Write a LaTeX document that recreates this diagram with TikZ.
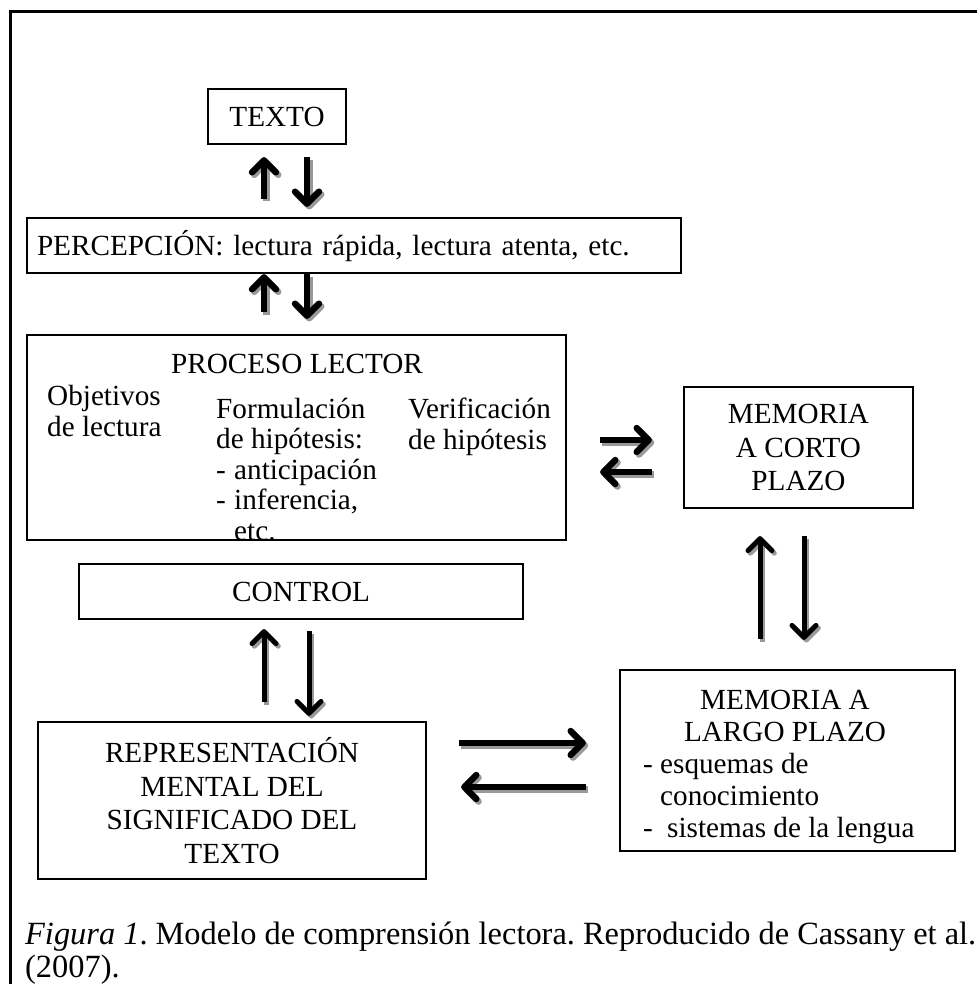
\documentclass[tikz,border=0pt]{standalone}
\usepackage{fontspec}
\setmainfont{Liberation Serif}
\usetikzlibrary{arrows.meta}
\newcommand{\fs}[1]{\fontsize{29.2}{#1}\selectfont\frenchspacing}
\begin{document}
\begin{tikzpicture}[x=1pt,y=-1pt,
  every node/.style={font=\fs{33}},
  box/.style={draw, line width=2.2, inner sep=0pt},
  oneline/.style={text height=20, text depth=0},
  txt/.style={inner sep=0pt, anchor=base west},
  tip/.style={-{Straight Barb[length=12pt,width=24pt,round]}},
  arr/.style={line width=#1, tip},
  arr/.default=6.4,
  shd/.style={line width=#1, tip, draw=black!40, transform canvas={shift={(2.3,2.6)}}},
  shd/.default=6.4]
\useasboundingbox (0,0) rectangle (977,984);
% frame
\draw[line width=3] (977,12) -- (10,12) -- (10,984);
% boxes
\node[box, oneline, minimum width=138, minimum height=55] (texto) at (277,116.5) {TEXTO};
\node[box, oneline, minimum width=654, minimum height=55, text width=634, align=left] (perc) at (354,245.5) {PERCEPCIÓN: lectura rápida, lectura atenta, etc.};
\node[box, minimum width=539, minimum height=205] (proc) at (296.5,437.5) {};
\node[box, oneline, minimum width=444, minimum height=55] (control) at (301,591.5) {CONTROL};
\node[box, minimum width=229, minimum height=121, align=center, font=\fs{33.3}] (corto) at (798.5,447.5) {MEMORIA\\A CORTO\\PLAZO};
\node[box, minimum width=388, minimum height=157, align=center, font=\fs{33.5}] (repr) at (232,800.5) {REPRESENTACIÓN\\MENTAL DEL\\SIGNIFICADO DEL\\TEXTO};
\node[box, minimum width=335, minimum height=181] (largo) at (787.5,760.5) {};
% texts inside PROCESO LECTOR
\node[inner sep=0pt, anchor=base] (proct) at (297,373) {PROCESO LECTOR};
\node[txt, font=\fs{31.7}] (obj) at (47,405) {\begin{tabular}[t]{@{}l@{}}Objetivos\\de lectura\end{tabular}};
\node[txt, font=\fs{30.5}] (form) at (216,418) {\begin{tabular}[t]{@{}l@{}}Formulación\\de hipótesis:\\\makebox[18pt][l]{-}anticipación\\\makebox[18pt][l]{-}inferencia,\\\hspace*{18pt}etc.\end{tabular}};
\node[txt, font=\fs{31.7}] (verif) at (408,418) {\begin{tabular}[t]{@{}l@{}}Verificación\\de hipótesis\end{tabular}};
% texts inside MEMORIA A LARGO PLAZO
\node[inner sep=0pt, anchor=base, font=\fs{32}] (largot) at (785,709) {\begin{tabular}[t]{@{}c@{}}MEMORIA A\\LARGO PLAZO\end{tabular}};
\node[txt, font=\fs{32}] (largol) at (643,773) {\begin{tabular}[t]{@{}l@{}}\makebox[17pt][l]{-}esquemas de\\\hspace*{17pt}conocimiento\\\makebox[24pt][l]{-}sistemas de la lengua\end{tabular}};
% caption
\node[txt, font={\fontsize{32.4}{33.5}\selectfont\frenchspacing}] (cap) at (25,944) {\begin{tabular}[t]{@{}l@{}}\textit{Figura 1}. Modelo de comprensión lectora. Reproducido de Cassany et al.\\(2007).\end{tabular}};
% arrow positions
\coordinate (xa) at (264,0); \coordinate (xb) at (307,0);
\coordinate (xc) at (264,0); \coordinate (xd) at (309,0);
\coordinate (xe) at (760,0); \coordinate (xf) at (804,0);
\coordinate (ya) at (0,440); \coordinate (yb) at (0,472);
\coordinate (yc) at (0,743); \coordinate (yd) at (0,787);
% arrows: shadows first, then arrows
\foreach \st/\w in {shd/6.4, arr/6.4}{
  \draw[\st=\w, shorten <=18, shorten >=12] (perc.north -| xa) -- (texto.south -| xa);
  \draw[\st=\w, shorten <=12, shorten >=10] (texto.south -| xb) -- (perc.north -| xb);
  \draw[\st=\w, shorten <=22, shorten >=0] (proc.north -| xa) -- (perc.south -| xa);
  \draw[\st=\w, shorten <=0, shorten >=15] (perc.south -| xb) -- (proc.north -| xb);
  \draw[\st=\w, shorten <=33, shorten >=31] (proc.east |- ya) -- (corto.west |- ya);
  \draw[\st=\w, shorten <=31, shorten >=33] (corto.west |- yb) -- (proc.east |- yb);
  \draw[\st=\w, shorten <=32, shorten >=33] (repr.east |- yc) -- (largo.west |- yc);
  \draw[\st=\w, shorten <=33, shorten >=34] (largo.west |- yd) -- (repr.east |- yd);
}
\foreach \st/\w in {shd/5, arr/5}{
  \draw[\st=\w, shorten <=19, shorten >=9] (repr.north -| xc) -- (control.south -| xc);
  \draw[\st=\w, shorten <=11, shorten >=5] (control.south -| xd) -- (repr.north -| xd);
  \draw[\st=\w, shorten <=30, shorten >=27] (largo.north -| xe) -- (corto.south -| xe);
  \draw[\st=\w, shorten <=27, shorten >=29] (corto.south -| xf) -- (largo.north -| xf);
}
\end{tikzpicture}
\end{document}
